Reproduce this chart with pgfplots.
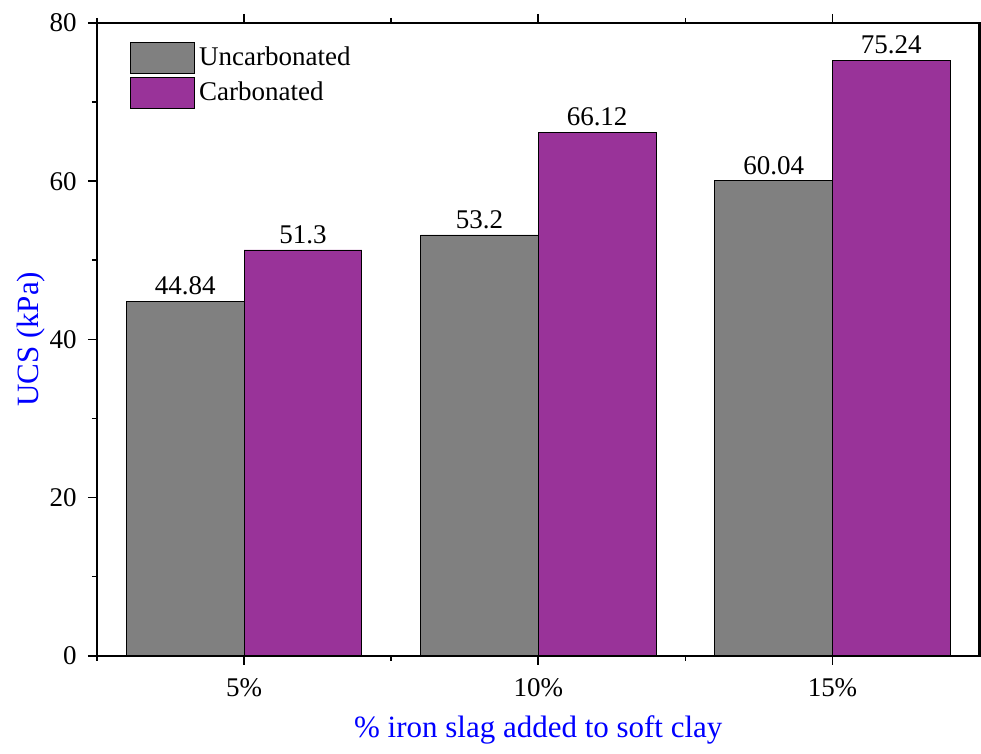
\documentclass[border=0pt]{standalone}
\usepackage{pgfplots}
\pgfplotsset{compat=1.18}
\usepackage{fontspec}
\setmainfont{Liberation Serif}
\definecolor{cgray}{RGB}{128,128,128}
\definecolor{cpurp}{RGB}{153,51,153}
\newcommand{\ff}{\fontsize{13.5}{16}\selectfont}
\newcommand{\fl}{\fontsize{15.5}{18}\selectfont}
\begin{document}
\ff
\begin{tikzpicture}
\begin{axis}[
  scale only axis,
  width=441.5pt, height=316.5pt,
  xmin=0.5, xmax=3.5, ymin=0, ymax=80,
  ybar, bar width=0.4,
  xtick={1,2,3}, xticklabels={5\%,10\%,15\%},
  minor xtick={0.5,1.5,2.5},
  ytick={0,20,40,60,80},
  minor ytick={10,30,50,70},
  ytick pos=left,
  xtick pos=both,
  tick align=outside,
  major tick length=4.5pt,
  minor tick length=2.5pt,
  every tick/.style={black, line width=0.8pt},
  axis line style={line width=1.2pt},
  /pgf/number format/assume math mode=true,
  tick label style={font=\ff},
  xticklabel style={yshift=-2pt},
  yticklabel style={xshift=-1pt},
  xlabel={\% iron slag added to soft clay},
  ylabel={UCS (kPa)},
  label style={font=\fl, text=blue},
  xlabel style={yshift=-0.5pt},
  ylabel style={yshift=-7pt},
  legend style={at={(rel axis cs:0,1)}, anchor=north west, xshift=13.5pt, yshift=-7.5pt,
    draw=none, fill=none, font=\ff, row sep=1.5pt,
    legend cell align=left},
  legend image code/.code={\draw[#1,draw=black,line width=0.4pt] (0pt,-7.75pt) rectangle (32pt,7.75pt);},
  nodes near coords,
  nodes near coords style={font=\ff, text=black, yshift=-1.5pt},
  point meta=explicit symbolic,
]
\addplot[ybar, bar shift=-0.2, fill=cgray, draw=black, line width=0.4pt]
  coordinates {(1,44.84)[44.84] (2,53.2)[53.2] (3,60.04)[60.04]};
\addlegendentry{Uncarbonated}
\addplot[ybar, bar shift=0.2, fill=cpurp, draw=black, line width=0.4pt]
  coordinates {(1,51.3)[51.3] (2,66.12)[66.12] (3,75.24)[75.24]};
\addlegendentry{Carbonated}
\coordinate (bl) at (rel axis cs:0,0);
\coordinate (tr) at (rel axis cs:1,1);
\end{axis}
\path ([shift={(-48.5pt,-44.5pt)}]bl) rectangle ([shift={(0.7pt,11.5pt)}]tr);
\end{tikzpicture}
\end{document}
